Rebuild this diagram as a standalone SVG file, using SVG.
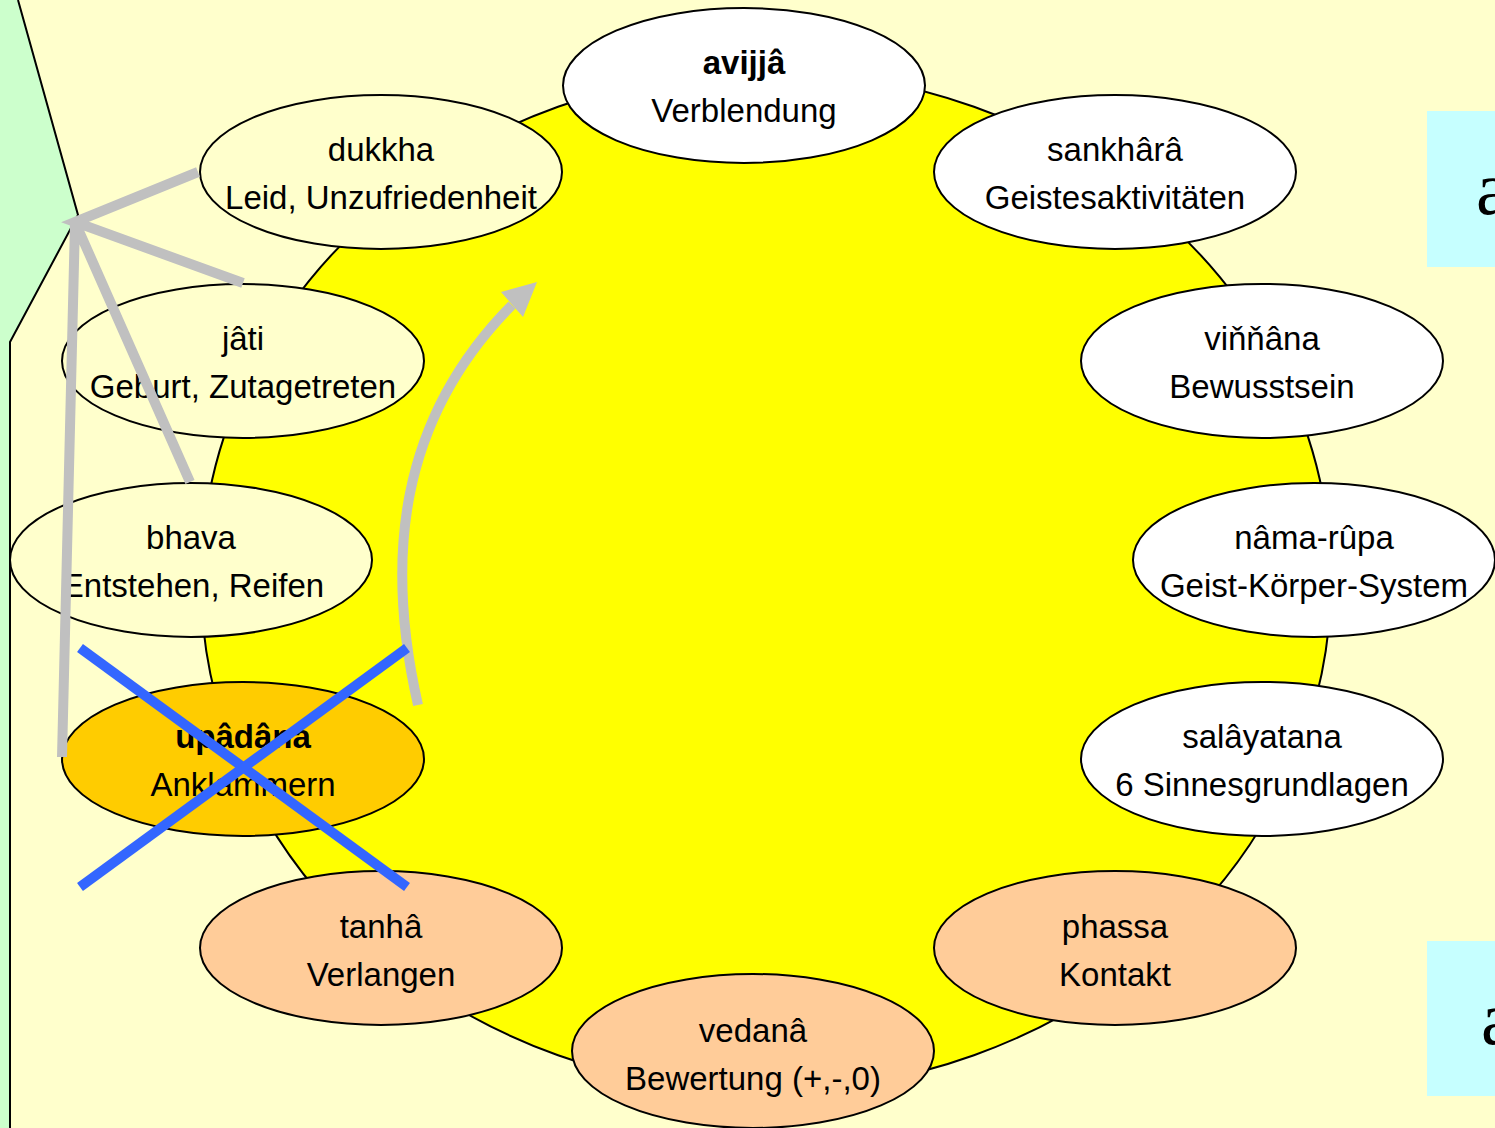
<svg xmlns="http://www.w3.org/2000/svg" width="1495" height="1128" viewBox="0 0 1495 1128">
<style>
.node ellipse{stroke:#000;stroke-width:2}
.w{fill:#fff}
.p{fill:#FFCC99}
.o{fill:#FFCC00}
.l{fill:#FFFFCC}
text{font-family:"Liberation Sans",Arial,sans-serif;font-size:33px;fill:#000;text-anchor:middle}
.b{font-weight:bold}
.gray{fill:none;stroke:#C0C0C0;stroke-width:10}
.blue{stroke:#3366FF;stroke-width:10}
.serif{font-family:"Liberation Serif","Times New Roman",serif;font-size:76px;text-anchor:start}
</style>
<rect x="0" y="0" width="1495" height="1128" fill="#FFFFCC"/>
<polygon points="0,0 18,0 78,215 10,342 10,1128 0,1128" fill="#CCFFCC"/>
<polyline points="18,0 78,215 10,342 10,1128" fill="none" stroke="#000" stroke-width="2"/>
<rect x="1427" y="111" width="68" height="156" fill="#C6FFFF"/>
<text class="serif" x="1476" y="214">a</text>
<rect x="1427" y="941" width="68" height="155" fill="#C6FFFF"/>
<text class="serif" x="1481" y="1044">a</text>
<ellipse cx="766" cy="581" rx="565" ry="510" fill="#FFFF00" stroke="#000" stroke-width="2"/>
<g id="avijja" class="node"><ellipse class="w" cx="744" cy="85.5" rx="181" ry="77.5"/><text class="b" x="744" y="74">avijjâ</text><text x="744" y="122">Verblendung</text></g>
<g id="sankhara" class="node"><ellipse class="w" cx="1115" cy="172" rx="181" ry="77"/><text x="1115" y="161">sankhârâ</text><text x="1115" y="209">Geistesaktivitäten</text></g>
<g id="vinnana" class="node"><ellipse class="w" cx="1262" cy="361" rx="181" ry="77"/><text x="1262" y="350">viňňâna</text><text x="1262" y="398">Bewusstsein</text></g>
<g id="namarupa" class="node"><ellipse class="w" cx="1314" cy="560" rx="181" ry="77"/><text x="1314" y="549">nâma-rûpa</text><text x="1314" y="597">Geist-Körper-System</text></g>
<g id="salayatana" class="node"><ellipse class="w" cx="1262" cy="759" rx="181" ry="77"/><text x="1262" y="748">salâyatana</text><text x="1262" y="796">6 Sinnesgrundlagen</text></g>
<g id="phassa" class="node"><ellipse class="p" cx="1115" cy="948" rx="181" ry="77"/><text x="1115" y="938">phassa</text><text x="1115" y="986">Kontakt</text></g>
<g id="vedana" class="node"><ellipse class="p" cx="753" cy="1051" rx="181" ry="77"/><text x="753" y="1042">vedanâ</text><text x="753" y="1090">Bewertung (+,-,0)</text></g>
<g id="tanha" class="node"><ellipse class="p" cx="381" cy="948" rx="181" ry="77"/><text x="381" y="938">tanhâ</text><text x="381" y="986">Verlangen</text></g>
<g id="upadana" class="node"><ellipse class="o" cx="243" cy="759" rx="181" ry="77"/><text class="b" x="243" y="748">upâdâna</text><text x="243" y="796">Anklammern</text></g>
<g id="bhava" class="node"><ellipse class="l" cx="191" cy="560" rx="181" ry="77"/><text x="191" y="549">bhava</text><text x="193" y="597">Entstehen, Reifen</text></g>
<g id="jati" class="node"><ellipse class="l" cx="243" cy="361" rx="181" ry="77"/><text x="243" y="350">jâti</text><text x="243" y="398">Geburt, Zutagetreten</text></g>
<g id="dukkha" class="node"><ellipse class="l" cx="381" cy="172" rx="181" ry="77"/><text x="381" y="161">dukkha</text><text x="381" y="209">Leid, Unzufriedenheit</text></g>
<g id="connectors">
<path class="gray" d="M198,172 L75,222 L243,283 M75,222 L190,482 M75,222 L62,757"/>
<path class="gray" d="M418,705 C385,560 398,420 512,305"/>
<polygon points="537,282 501,292 523,317" fill="#C0C0C0"/>
<line class="blue" x1="80" y1="648" x2="407" y2="887"/>
<line class="blue" x1="407" y1="648" x2="80" y2="887"/>
</g>
</svg>
